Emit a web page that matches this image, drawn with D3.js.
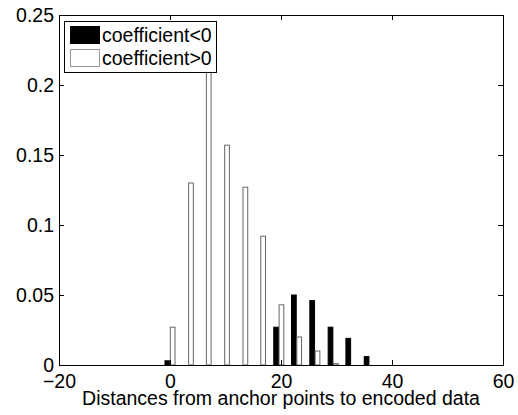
<!DOCTYPE html>
<html>
<head>
<meta charset="utf-8">
<script src="https://cdn.jsdelivr.net/npm/d3@7"></script>
<style>
  body { margin: 0; background: #fff; }
  text { font-family: "Liberation Sans", Arial, sans-serif; }
  .axis path, .axis line { stroke: #000; shape-rendering: crispEdges; }
</style>
</head>
<body>
<div id="chart"></div>
<script>
// bin centres (distance) and relative frequencies for each group
const binCenters = [0, 3.3, 6.5, 9.8, 13.1, 16.3, 19.6, 22.8, 26.1, 29.4, 32.6, 35.9];
const negValues = [0.003, 0, 0, 0, 0, 0, 0.027, 0.050, 0.046, 0.027, 0.019, 0.006];
const posValues = [0.027, 0.130, 0.220, 0.157, 0.127, 0.092, 0.043, 0.020, 0.010, 0.001, 0, 0];
const seriesNames = ["coefficient<0", "coefficient>0"];
const xTicks = [-20, 0, 20, 40, 60];
const yTicks = [0, 0.05, 0.1, 0.15, 0.2, 0.25];

const margin = { top: 15, right: 15, bottom: 50, left: 59 };
const W = 518, H = 415;
const width = W - margin.left - margin.right;
const height = H - margin.top - margin.bottom;

const svg = d3.select("#chart").append("svg")
  .attr("width", W)
  .attr("height", H);

const g = svg.append("g")
  .attr("transform", `translate(${margin.left},${margin.top})`);

const x = d3.scaleLinear().domain([-20, 60]).range([0, width]);
const y = d3.scaleLinear().domain([0, 0.25]).range([height, 0]);

// grouped bars: black left of centre, white right of centre
const barW = 0.85, offset = 0.48;
const bars = [];
binCenters.forEach((c, i) => {
  bars.push({ key: 0, x: c - offset, v: negValues[i] });
  bars.push({ key: 1, x: c + offset, v: posValues[i] });
});

g.selectAll(".bar")
  .data(bars.filter(d => d.v > 0))
  .enter().append("rect")
  .attr("class", "bar")
  .attr("x", d => x(d.x - barW / 2))
  .attr("y", d => y(d.v))
  .attr("width", d => x(d.x + barW / 2) - x(d.x - barW / 2))
  .attr("height", d => y(0) - y(d.v))
  .attr("fill", d => d.key === 0 ? "#000" : "#fff")
  .attr("stroke", d => d.key === 0 ? "#000" : "#666")
  .attr("stroke-width", 1);

// axes (box with inward ticks)
const fs = "19.5px";
const xAxis = g.append("g").attr("class", "axis")
  .attr("transform", `translate(0,${height})`)
  .call(d3.axisBottom(x).tickValues(xTicks).tickSizeInner(-5).tickSizeOuter(0).tickPadding(9));
xAxis.selectAll("text").attr("font-size", fs).attr("fill", "#000");

const yAxis = g.append("g").attr("class", "axis")
  .call(d3.axisLeft(y).tickValues(yTicks).tickFormat(d3.format("")).tickSizeInner(-5).tickSizeOuter(0).tickPadding(5));
yAxis.selectAll("text").attr("font-size", fs).attr("fill", "#000");

g.append("g").attr("class", "axis")
  .call(d3.axisTop(x).tickValues(xTicks).tickFormat("").tickSizeInner(-5).tickSizeOuter(0));
g.append("g").attr("class", "axis")
  .attr("transform", `translate(${width},0)`)
  .call(d3.axisRight(y).tickValues(yTicks).tickFormat("").tickSizeInner(-5).tickSizeOuter(0));

g.selectAll(".axis text").attr("font-family", "Liberation Sans, Arial, sans-serif");

// x label
svg.append("text")
  .attr("x", margin.left + width / 2)
  .attr("y", 405)
  .attr("text-anchor", "middle")
  .attr("font-size", fs)
  .text("Distances from anchor points to encoded data");

// legend
const legend = svg.append("g").attr("transform", "translate(64,21)");
legend.append("rect")
  .attr("width", 152).attr("height", 51)
  .attr("fill", "#fff").attr("stroke", "#000").attr("stroke-width", 1)
  .attr("shape-rendering", "crispEdges");
seriesNames.forEach((name, i) => {
  legend.append("rect")
    .attr("x", 6).attr("y", 5 + i * 23)
    .attr("width", 29).attr("height", 17)
    .attr("fill", i === 0 ? "#000" : "#fff")
    .attr("stroke", i === 0 ? "#000" : "#999")
    .attr("shape-rendering", "crispEdges");
  legend.append("text")
    .attr("x", 38).attr("y", 21 + i * 23)
    .attr("font-size", fs)
    .text(name);
});
</script>
</body>
</html>
